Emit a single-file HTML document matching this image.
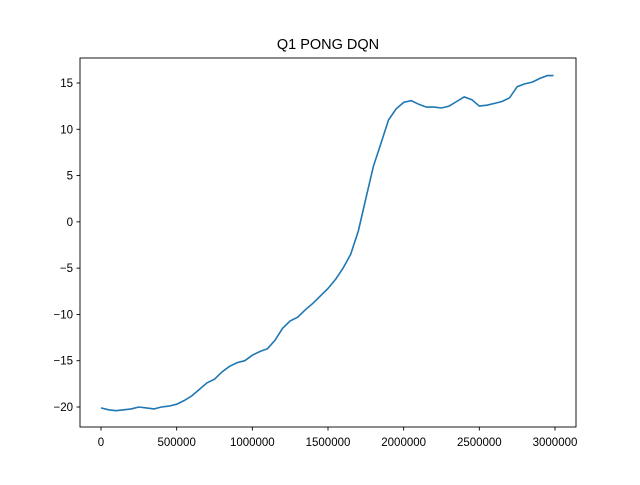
<!DOCTYPE html>
<html><head><meta charset="utf-8"><style>
body{margin:0;background:#fff;}
svg text{font-family:"Liberation Sans","DejaVu Sans",sans-serif;}
</style></head><body>
<svg id="chart" width="640" height="480" viewBox="0 0 640 480">
<rect width="640" height="480" fill="#fff"/>
<text x="328" y="49" font-size="14.5" text-anchor="middle">Q1 PONG DQN</text>
<g id="axes"></g>
<path id="line" fill="none" stroke="#1f77b4" stroke-width="1.6"/>
<rect x="80" y="58" width="496" height="369" fill="none" stroke="#000" stroke-width="0.9"/>
</svg>
<script>
const steps=[0,50e3,100e3,150e3,200e3,250e3,300e3,350e3,400e3,450e3,500e3,550e3,600e3,650e3,700e3,750e3,800e3,850e3,900e3,950e3,1000e3,1050e3,1100e3,1150e3,1200e3,1250e3,1300e3,1350e3,1400e3,1450e3,1500e3,1550e3,1600e3,1650e3,1700e3,1750e3,1800e3,1850e3,1900e3,1950e3,2000e3,2050e3,2100e3,2150e3,2200e3,2250e3,2300e3,2350e3,2400e3,2450e3,2500e3,2550e3,2600e3,2650e3,2700e3,2750e3,2800e3,2850e3,2900e3,2950e3,2990e3];
const rewards=[-20.1,-20.3,-20.4,-20.3,-20.2,-20.0,-20.1,-20.2,-20.0,-19.9,-19.7,-19.3,-18.8,-18.1,-17.4,-17.0,-16.2,-15.6,-15.2,-15.0,-14.4,-14.0,-13.7,-12.8,-11.5,-10.7,-10.3,-9.5,-8.8,-8.0,-7.2,-6.2,-5.0,-3.5,-1.0,2.5,6.0,8.5,11.0,12.2,12.9,13.1,12.7,12.4,12.4,12.3,12.5,13.0,13.5,13.2,12.5,12.6,12.8,13.0,13.4,14.6,14.9,15.1,15.5,15.8,15.8];
const xTicks=[0,500000,1000000,1500000,2000000,2500000,3000000];
const yTicks=[-20,-15,-10,-5,0,5,10,15];
const X=v=>101+v*454/3e6;
const Y=v=>407-(v+20)*324/35;
const ns="http://www.w3.org/2000/svg";
const ax=document.getElementById('axes');
function mk(t,a){const e=document.createElementNS(ns,t);for(const k in a)e.setAttribute(k,a[k]);ax.appendChild(e);return e;}
xTicks.forEach(t=>{
 const l=mk('line',{x1:X(t),x2:X(t),y1:427,y2:430.5,stroke:'#000','stroke-width':0.9});
 
 
 const tx=mk('text',{x:X(t),y:446,'font-size':11.5,'text-anchor':'middle'});tx.textContent=t;
 
 
});
yTicks.forEach(t=>{
 const l=mk('line',{x1:76.5,x2:80,y1:Y(t),y2:Y(t),stroke:'#000','stroke-width':0.9});
 
 
 const tx=mk('text',{x:73,y:Y(t)+4,'font-size':11.5,'text-anchor':'end'});tx.textContent=t<0?'\u2212'+(-t):t;
 
 
});
document.getElementById('line').setAttribute('d',steps.map((s,i)=>(i?'L':'M')+X(s).toFixed(1)+','+Y(rewards[i]).toFixed(1)).join(''));
</script>
</body></html>
